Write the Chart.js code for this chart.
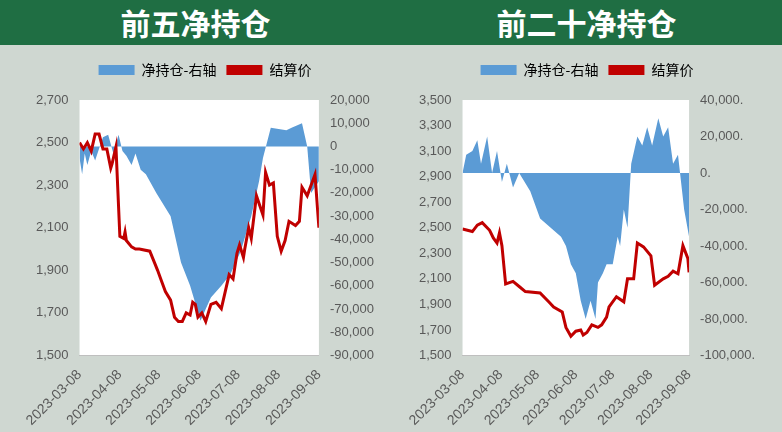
<!DOCTYPE html><html><head><meta charset="utf-8">
<script src="https://cdn.jsdelivr.net/npm/chart.js@4"></script>
<style>
body{margin:0;width:782px;height:432px;background:#cfd7d1;font-family:"Noto Sans CJK SC";overflow:hidden}
#hd{position:absolute;left:0;top:0;width:782px;height:45px;background:#1f6e43}
.t{position:absolute;top:1px;color:#fff;font-size:30px;font-weight:bold;line-height:42px;text-align:center;width:391px}
.c{position:absolute;top:45px;width:391px;height:387px}
</style></head><body>
<div id="hd"></div><div class="t" style="left:0">前五净持仓</div><div class="t" style="left:391px">前二十净持仓</div>
<div class="c" style="left:0"><canvas id="a"></canvas></div>
<div class="c" style="left:391px"><canvas id="b"></canvas></div>
<script>
const monthTicks=[0,31,61,92,122,153,184];
const monthLabels=["2023-03-08","2023-04-08","2023-05-08","2023-06-08","2023-07-08","2023-08-08","2023-09-08"];
// Left chart (top 5)
const priceDays5=[0,3,6,9,12,15,18,21,24,25,28,31,34,35,36,40,43,46,54,58,60,63,66,70,73,76,79,82,85,87,89,91,94,97,101,105,109,112,115,118,121,123,126,127,130,132,136,141,143,146,149,152,155,158,161,166,169,171,175,181,184];
const price5=[2500,2470,2500,2460,2540,2540,2470,2470,2380,2400,2480,2060,2050,2080,2040,2010,2000,2000,1990,1930,1900,1850,1800,1760,1680,1660,1660,1700,1690,1750,1740,1680,1700,1660,1740,1750,1720,1800,1880,1860,1980,2020,1960,2000,2100,2050,2250,2160,2360,2300,2310,2060,1990,2040,2130,2110,2130,2290,2250,2350,2100];
const netDays5=[0,2,4,6,9,12,15,18,22,26,30,33,36,40,43,47,51,59,70,78,85,93,97,101,109,116,124,132,138,141,147,159,163,171,175,178,184];
const net5=[-5000,-12000,-3000,-8000,-2000,-6000,-1000,4000,5000,-3000,5000,-2000,-4000,-8000,-3000,-10000,-12000,-20000,-30000,-50000,-60000,-75000,-70000,-65000,-60000,-55000,-45000,-30000,-15000,-5000,8000,7000,8000,10000,0,-20000,-15000];
// Right chart (top 20)
const priceDays20=[0,8,12,16,22,25,28,30,32,35,41,46,51,63,70,74,81,84,88,92,96,98,101,105,110,113,117,119,125,131,134,139,142,147,153,156,163,167,171,175,179,183,184];
const price20=[2490,2470,2520,2540,2480,2420,2380,2460,2360,2060,2080,2040,2000,1990,1920,1880,1840,1720,1650,1690,1700,1660,1680,1740,1720,1740,1800,1880,1960,1920,2100,2100,2380,2350,2280,2050,2100,2120,2160,2140,2360,2260,2150];
const netDays20=[0,3,8,12,15,20,24,28,32,36,41,46,55,63,80,84,88,92,96,100,104,108,110,114,117,122,126,128,131,134,137,142,146,150,154,159,163,167,171,175,180,184];
const net20=[0,10000,12000,18000,5000,20000,0,12000,-5000,5000,-8000,0,-10000,-25000,-35000,-40000,-50000,-55000,-70000,-80000,-70000,-80000,-60000,-55000,-50000,-50000,-35000,-40000,-20000,-30000,5000,20000,15000,25000,15000,30000,20000,25000,5000,10000,-20000,-35000];

const bgPlugin={id:'bg',beforeDraw(c){const a=c.chartArea,x=c.ctx;x.save();x.fillStyle='#fff';x.fillRect(a.left,a.top,a.right-a.left,a.bottom-a.top);x.restore();}};
const legendGap={id:'lg',beforeInit(c){const f=c.legend.fit;c.legend.fit=function(){f.bind(c.legend)();this.height+=13;};}};
const fmt=v=>v.toLocaleString('en-US');
function mk(id,pd,pv,nd,nv,yl,yr,suffix,pad){
 new Chart(document.getElementById(id),{
  data:{datasets:[
   {type:'line',label:'结算价',data:pd.map((d,i)=>({x:d,y:pv[i]})),borderColor:'#c00000',borderWidth:3,pointRadius:0,yAxisID:'y',order:0,tension:0},
   {type:'line',label:'净持仓-右轴',data:nd.map((d,i)=>({x:d,y:nv[i]})),borderWidth:0,backgroundColor:'#5b9bd5',fill:'origin',pointRadius:0,yAxisID:'y1',order:1,tension:0}
  ]},
  options:{animation:false,responsive:true,maintainAspectRatio:false,
   layout:{padding:pad},
   plugins:{legend:{position:'top',labels:{color:'#595959',font:{size:14,family:'Noto Sans CJK SC'},boxWidth:36,boxHeight:10,
     generateLabels:c=>[{text:'净持仓-右轴',fillStyle:'#5b9bd5',strokeStyle:'#5b9bd5',lineWidth:0,datasetIndex:1},{text:'结算价',fillStyle:'#c00000',strokeStyle:'#c00000',lineWidth:0,datasetIndex:0}]}},tooltip:{enabled:false}},
   scales:{
    x:{type:'linear',min:0,max:184,grid:{display:false},border:{color:'#bfbfbf'},
     afterBuildTicks:s=>{s.ticks=monthTicks.map(v=>({value:v}));},
     ticks:{autoSkip:false,maxRotation:45,minRotation:45,color:'#595959',font:{size:14},callback:(v)=>monthLabels[monthTicks.indexOf(v)]}},
    y:{min:yl[0],max:yl[1],grid:{display:false},border:{display:false},ticks:{stepSize:yl[2],color:'#595959',font:{size:13},callback:fmt}},
    y1:{position:'right',min:yr[0],max:yr[1],grid:{display:false},border:{display:false},ticks:{stepSize:yr[2],color:'#595959',font:{size:13},callback:v=>fmt(v)+suffix}}
   }},plugins:[bgPlugin,legendGap]});
}
mk('a',priceDays5,price5,netDays5,net5,[1500,2700,200],[-90000,20000,10000],'',{left:33,right:14,top:8,bottom:0});
mk('b',priceDays20,price20,netDays20,net20,[1500,3500,200],[-100000,40000,20000],'.',{left:25,right:24,top:8,bottom:0});
</script></body></html>
